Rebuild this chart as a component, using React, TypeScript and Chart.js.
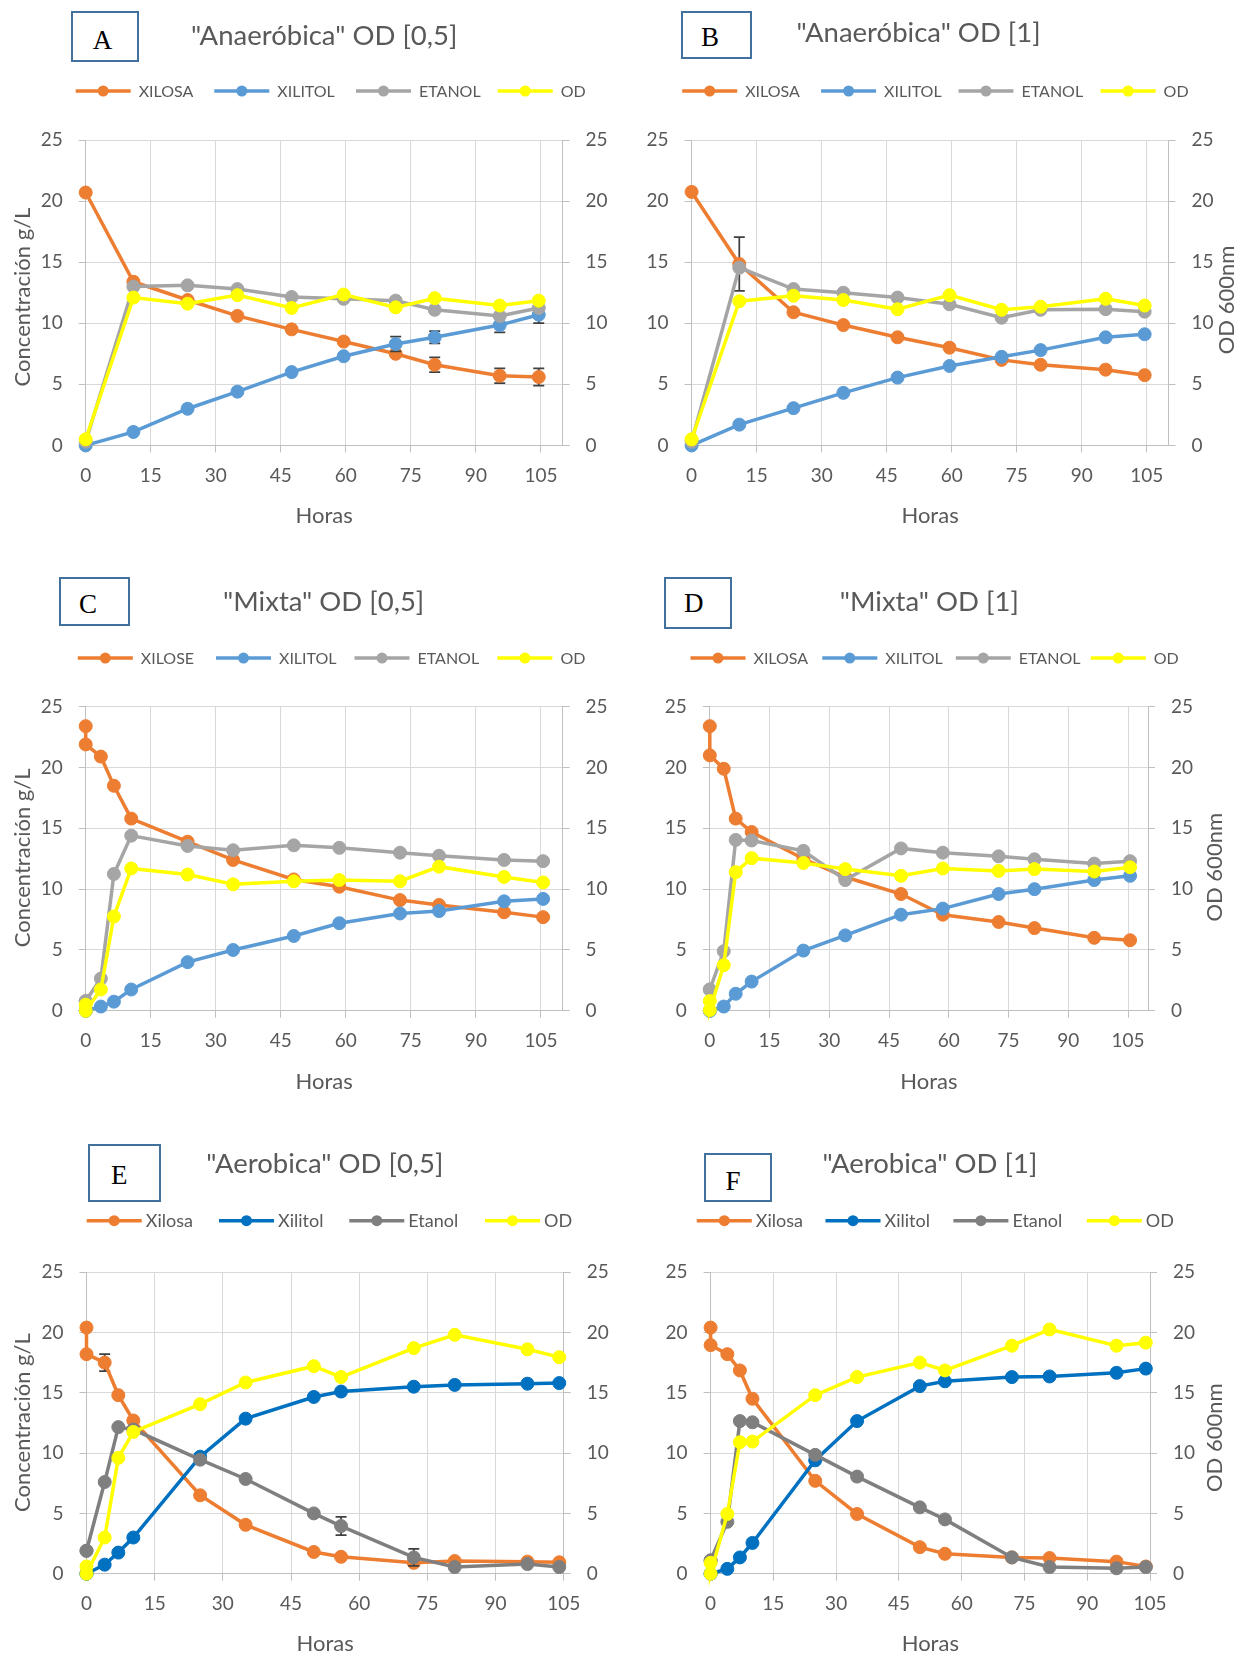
import React, { useEffect, useRef } from "react";
import { Chart, registerables } from "chart.js";

Chart.register(...registerables);

// ---------------- DATA ----------------
// Panel A  "Anaeróbica" OD [0,5]
const horasA = [0, 11, 23.5, 35, 47.5, 59.5, 71.5, 80.5, 95.5, 104.5];
const xilosaA = [20.7, 13.4, 11.9, 10.6, 9.5, 8.5, 7.5, 6.6, 5.7, 5.6];
const xilitolA = [0, 1.1, 3.0, 4.4, 6.0, 7.3, 8.3, 8.85, 9.85, 10.7];
const etanolA = [0.3, 13.0, 13.1, 12.8, 12.15, 12.0, 11.85, 11.1, 10.6, 11.25];
const odA = [0.5, 12.1, 11.6, 12.3, 11.25, 12.35, 11.3, 12.05, 11.45, 11.85];
const errXilosaA = [null, null, null, null, null, null, null, 0.6, 0.6, 0.7];
const errXilitolA = [null, null, null, null, null, null, 0.6, 0.5, 0.6, 0.7];

// Panel B  "Anaeróbica" OD [1]
const horasB = [0, 11, 23.5, 35, 47.5, 59.5, 71.5, 80.5, 95.5, 104.5];
const xilosaB = [20.75, 14.85, 10.9, 9.85, 8.85, 8.0, 7.0, 6.6, 6.2, 5.75];
const xilitolB = [0, 1.7, 3.05, 4.3, 5.55, 6.5, 7.25, 7.8, 8.85, 9.1];
const etanolB = [0.3, 14.55, 12.8, 12.5, 12.1, 11.55, 10.45, 11.1, 11.15, 10.95];
const odB = [0.5, 11.8, 12.25, 11.9, 11.15, 12.3, 11.1, 11.35, 12.0, 11.45];
const errXilosaB = [null, 2.2, null, null, null, null, null, null, null, null];

// Panel C  "Mixta" OD [0,5]
const horasC = [0, 0, 3.5, 6.5, 10.5, 23.5, 34, 48, 58.5, 72.5, 81.5, 96.5, 105.5];
const xilosaC = [23.4, 21.9, 20.9, 18.5, 15.8, 13.9, 12.4, 10.8, 10.2, 9.1, 8.7, 8.1, 7.7];
const xilitolC = [0, 0, 0.35, 0.75, 1.75, 4.0, 5.0, 6.15, 7.2, 8.0, 8.2, 9.0, 9.2];
const etanolC = [0.8, 0.8, 2.65, 11.25, 14.4, 13.55, 13.2, 13.6, 13.4, 13.0, 12.75, 12.4, 12.3];
const odC = [0.5, 0.0, 1.75, 7.75, 11.7, 11.2, 10.4, 10.65, 10.75, 10.65, 11.85, 11.0, 10.55];

// Panel D  "Mixta" OD [1]
const horasD = [0, 0, 3.5, 6.5, 10.5, 23.5, 34, 48, 58.5, 72.5, 81.5, 96.5, 105.5];
const xilosaD = [23.4, 21.0, 19.9, 15.8, 14.7, 12.5, 11.0, 9.6, 7.9, 7.3, 6.8, 6.0, 5.8];
const xilitolD = [0, 0, 0.35, 1.4, 2.4, 4.95, 6.2, 7.9, 8.4, 9.6, 10.0, 10.75, 11.1];
const etanolD = [1.75, 1.75, 4.9, 14.05, 14.0, 13.15, 10.75, 13.35, 13.0, 12.7, 12.45, 12.1, 12.3];
const odD = [0.8, 0.05, 3.75, 11.4, 12.55, 12.15, 11.65, 11.1, 11.7, 11.5, 11.65, 11.45, 11.8];

// Panel E  "Aerobica" OD [0,5]
const horasE = [0, 0, 4, 7, 10.3, 25, 35, 50, 56, 72, 81, 97, 104];
const xilosaE = [20.4, 18.2, 17.5, 14.8, 12.7, 6.5, 4.05, 1.8, 1.4, 0.9, 1.05, 1.0, 0.95];
const xilitolE = [0, 0, 0.75, 1.75, 3.0, 9.7, 12.85, 14.65, 15.1, 15.5, 15.65, 15.75, 15.8];
const etanolE = [1.9, 1.9, 7.6, 12.15, 11.95, 9.45, 7.85, 5.0, 3.95, 1.35, 0.55, 0.8, 0.55];
const odE = [0.6, 0, 3.0, 9.6, 11.75, 14.05, 15.85, 17.2, 16.3, 18.7, 19.8, 18.6, 17.95];
const errXilosaE = [null, null, 0.7, null, null, null, null, null, null, null, null, null, null];
const errEtanolE = [null, null, null, null, null, null, null, null, 0.75, 0.7, null, null, null];

// Panel F  "Aerobica" OD [1]
const horasF = [0, 0, 4, 7, 10, 25, 35, 50, 56, 72, 81, 97, 104];
const xilosaF = [20.4, 18.95, 18.2, 16.85, 14.5, 7.7, 4.95, 2.2, 1.65, 1.35, 1.3, 1.0, 0.6];
const xilitolF = [0, 0, 0.4, 1.35, 2.55, 9.4, 12.65, 15.55, 15.95, 16.3, 16.35, 16.65, 17.0];
const etanolF = [1.1, 1.1, 4.3, 12.65, 12.55, 9.85, 8.05, 5.5, 4.5, 1.35, 0.55, 0.45, 0.55];
const odF = [0.9, 0, 4.95, 10.9, 10.95, 14.8, 16.3, 17.5, 16.85, 18.9, 20.25, 18.9, 19.15];
const errXilitolF = [null, null, null, null, null, null, null, null, null, null, 0.3, null, null];

const labelsUpper = ["XILOSA", "XILITOL", "ETANOL", "OD"];
const labelsC = ["XILOSE", "XILITOL", "ETANOL", "OD"];
const labelsMixed = ["Xilosa", "Xilitol", "Etanol", "OD"];

const xTitle = "Horas";
const yLeftTitle = "Concentración g/L";
const yRightTitle = "OD 600nm";

// ---------------- STYLE ----------------
const colorsLight = ["#ED7D31", "#5B9BD5", "#A5A5A5", "#FFFF00"];
const colorsDark = ["#ED7D31", "#0070C0", "#7F7F7F", "#FFFF00"];
const TEXT = "#595959";
const GRID = "#D9D9D9";
const AXIS = "#BFBFBF";
const FONT = "Lato, 'Open Sans', sans-serif";

const panels: any[] = [
  {
    id: "A", left: 0, top: 0, w: 619, h: 560,
    plot: { l: 85.7, r: 562.6, t: 140, b: 445.4 }, xMax: 110, horasY: 515,
    horas: horasA, series: [xilosaA, xilitolA, etanolA, odA], errors: [errXilosaA, errXilitolA, null, null],
    labels: labelsUpper, colors: colorsLight,
    legendY: 91, legendX: [75.7, 214.3, 356, 497.7], legendFont: 16, legendGap: 8,
    box: { x: 71, y: 11, w: 68, h: 50.5 }, letterX: 92.7, letterY: 41,
    title: "\"Anaeróbica\" OD [0,5]", titleX: 324.2, titleY: 35.8,
    yTitles: [{ text: yLeftTitle, x: 21.7, y: 297 }],
  },
  {
    id: "B", left: 619, top: 0, w: 619, h: 560,
    plot: { l: 72.6, r: 549.5, t: 140, b: 445.4 }, xMax: 110, horasY: 515,
    horas: horasB, series: [xilosaB, xilitolB, etanolB, odB], errors: [errXilosaB, null, null, null],
    labels: labelsUpper, colors: colorsLight,
    legendY: 91, legendX: [63.2, 202.1, 339.5, 481.6], legendFont: 16, legendGap: 8,
    box: { x: 681, y: 11.4, w: 71, h: 47.5 }, letterX: 701, letterY: 37.5,
    title: "\"Anaeróbica\" OD [1]", titleX: 918.5, titleY: 32.7,
    yTitles: [{ text: yRightTitle, x: 607.6, y: 300 }],
  },
  {
    id: "C", left: 0, top: 560, w: 619, h: 560,
    plot: { l: 85.7, r: 562.6, t: 146.7, b: 450.8 }, xMax: 110, horasY: 520.7,
    horas: horasC, series: [xilosaC, xilitolC, etanolC, odC], errors: [null, null, null, null],
    labels: labelsC, colors: colorsLight,
    legendY: 98.1, legendX: [77.8, 216, 354.5, 497.4], legendFont: 16, legendGap: 8,
    box: { x: 58.8, y: 577.2, w: 71.5, h: 49.3 }, letterX: 79, letterY: 604.8,
    title: "\"Mixta\" OD [0,5]", titleX: 323.7, titleY: 601.7,
    yTitles: [{ text: yLeftTitle, x: 21.7, y: 297.9 }],
  },
  {
    id: "D", left: 619, top: 560, w: 619, h: 560,
    plot: { l: 90.8, r: 529, t: 146.7, b: 450.8 }, xMax: 110, horasY: 520.7,
    horas: horasD, series: [xilosaD, xilitolD, etanolD, odD], errors: [null, null, null, null],
    labels: labelsUpper, colors: colorsLight,
    legendY: 98.1, legendX: [71.5, 203.3, 336.8, 471.8], legendFont: 16, legendGap: 8,
    box: { x: 664.4, y: 576.5, w: 68, h: 52.4 }, letterX: 684.1, letterY: 604.1,
    title: "\"Mixta\" OD [1]", titleX: 929.3, titleY: 601.7,
    yTitles: [{ text: yRightTitle, x: 595, y: 307.3 }],
  },
  {
    id: "E", left: 0, top: 1120, w: 619, h: 536,
    plot: { l: 86.5, r: 563.8, t: 152.1, b: 453.7 }, xMax: 105, horasY: 522.7,
    horas: horasE, series: [xilosaE, xilitolE, etanolE, odE], errors: [errXilosaE, null, errEtanolE, null],
    labels: labelsMixed, colors: colorsDark,
    legendY: 100.7, legendX: [86.7, 219, 349.3, 485], legendFont: 18, legendGap: 4,
    box: { x: 88.3, y: 1144.3, w: 73, h: 58 }, letterX: 111, letterY: 1175.5,
    title: "\"Aerobica\" OD [0,5]", titleX: 324.9, titleY: 1163.3,
    yTitles: [{ text: yLeftTitle, x: 21.7, y: 302.6 }],
  },
  {
    id: "F", left: 619, top: 1120, w: 619, h: 536,
    plot: { l: 91.6, r: 531, t: 152.1, b: 453.7 }, xMax: 105, horasY: 522.7,
    horas: horasF, series: [xilosaF, xilitolF, etanolF, odF], errors: [null, errXilitolF, null, null],
    labels: labelsMixed, colors: colorsDark,
    legendY: 100.7, legendX: [77.8, 206.5, 334.4, 467.8], legendFont: 18, legendGap: 4,
    box: { x: 703.9, y: 1152.5, w: 68, h: 49.6 }, letterX: 725.6, letterY: 1181.5,
    title: "\"Aerobica\" OD [1]", titleX: 929.9, titleY: 1163.4,
    yTitles: [{ text: yRightTitle, x: 595, y: 317.7 }],
  },
];

// ---------------- PLUGINS ----------------
const legendPlugin = {
  id: "excelLegend",
  afterDraw(chart: any, _a: any, opts: any) {
    const ctx = chart.ctx;
    ctx.save();
    ctx.font = `${opts.fontSize}px ${FONT}`;
    chart.data.datasets.forEach((ds: any, i: number) => {
      const x = opts.xs[i];
      const y = opts.y;
      ctx.strokeStyle = ds.borderColor;
      ctx.lineWidth = 3.5;
      ctx.beginPath();
      ctx.moveTo(x, y);
      ctx.lineTo(x + 55, y);
      ctx.stroke();
      ctx.fillStyle = ds.borderColor;
      ctx.beginPath();
      ctx.arc(x + 27.5, y, 5.5, 0, Math.PI * 2);
      ctx.fill();
      ctx.fillStyle = TEXT;
      ctx.textAlign = "left";
      ctx.textBaseline = "alphabetic";
      ctx.fillText(ds.label, x + 55 + opts.gap, y + 0.358 * opts.fontSize);
    });
    ctx.restore();
  },
};

const errorBarPlugin = {
  id: "errorBars",
  beforeDatasetDraw(chart: any, args: any) {
    const ds = chart.data.datasets[args.index];
    const errs = ds.errors;
    if (!errs) return;
    const xs = chart.scales.x;
    const ys = chart.scales[ds.yAxisID];
    const ctx = chart.ctx;
    ctx.save();
    ctx.strokeStyle = "#404040";
    ctx.lineWidth = 1.75;
    ds.data.forEach((pt: any, i: number) => {
      const e = errs[i];
      if (e == null) return;
      const px = xs.getPixelForValue(pt.x);
      const y1 = ys.getPixelForValue(pt.y + e);
      const y2 = ys.getPixelForValue(pt.y - e);
      ctx.beginPath();
      ctx.moveTo(px, y1);
      ctx.lineTo(px, y2);
      ctx.moveTo(px - 5.5, y1);
      ctx.lineTo(px + 5.5, y1);
      ctx.moveTo(px - 5.5, y2);
      ctx.lineTo(px + 5.5, y2);
      ctx.stroke();
    });
    ctx.restore();
  },
};

const axisTextPlugin = {
  id: "axisText",
  afterDraw(chart: any, _a: any, opts: any) {
    const { ctx, chartArea } = chart;
    const fs = 22;
    ctx.save();
    ctx.fillStyle = TEXT;
    ctx.font = `${fs}px ${FONT}`;
    ctx.textAlign = "center";
    ctx.textBaseline = "alphabetic";
    ctx.fillText(opts.xTitle, (chartArea.left + chartArea.right) / 2, opts.xTitleY + 0.358 * fs);
    for (const t of opts.yTitles) {
      ctx.save();
      ctx.translate(t.x, t.y);
      ctx.rotate(-Math.PI / 2);
      ctx.fillText(t.text, 0, 0.358 * fs);
      ctx.restore();
    }
    ctx.restore();
  },
};

function makeConfig(p: any): any {
  const yW = p.plot.l;
  const y1W = 50;
  const xH = 60;
  const tickFont = { family: FONT, size: 19 };
  return {
    type: "line",
    data: {
      datasets: p.series.map((s: number[], i: number) => ({
        label: p.labels[i],
        data: p.horas.map((h: number, j: number) => ({ x: h, y: s[j] })),
        borderColor: p.colors[i],
        backgroundColor: p.colors[i],
        pointBackgroundColor: p.colors[i],
        pointBorderColor: p.colors[i],
        borderWidth: 3.5,
        pointRadius: 6.5,
        pointBorderWidth: 1,
        pointHoverRadius: 6.5,
        tension: 0,
        clip: false,
        yAxisID: i === 3 ? "y1" : "y",
        order: 3 - i,
        errors: p.errors[i],
      })),
    },
    options: {
      animation: false,
      responsive: false,
      maintainAspectRatio: false,
      events: [],
      layout: {
        autoPadding: false,
        padding: {
          top: p.plot.t,
          left: 0,
          right: p.w - p.plot.r - y1W,
          bottom: p.h - p.plot.b - xH,
        },
      },
      plugins: {
        legend: { display: false },
        tooltip: { enabled: false },
        title: { display: false },
        excelLegend: { xs: p.legendX, y: p.legendY, fontSize: p.legendFont, gap: p.legendGap },
        axisText: { xTitle, xTitleY: p.horasY, yTitles: p.yTitles },
      },
      scales: {
        x: {
          type: "linear",
          min: 0,
          max: p.xMax,
          ticks: {
            stepSize: 15,
            includeBounds: false,
            padding: 12,
            color: TEXT,
            font: tickFont,
            maxRotation: 0,
            autoSkip: false,
          },
          grid: { color: GRID, lineWidth: 1, drawTicks: true, tickLength: 7, tickColor: AXIS },
          border: { display: true, color: AXIS },
          afterFit: (s: any) => {
            s.height = xH;
          },
        },
        y: {
          type: "linear",
          position: "left",
          min: 0,
          max: 25,
          ticks: { stepSize: 5, padding: 16, color: TEXT, font: tickFont },
          grid: { color: GRID, lineWidth: 1, drawTicks: true, tickLength: 7, tickColor: AXIS },
          border: { display: true, color: AXIS },
          afterFit: (s: any) => {
            s.width = yW;
          },
        },
        y1: {
          type: "linear",
          position: "right",
          min: 0,
          max: 25,
          ticks: { stepSize: 5, padding: 16, color: TEXT, font: tickFont },
          grid: { drawOnChartArea: false, drawTicks: true, tickLength: 7, tickColor: AXIS, color: AXIS },
          border: { display: true, color: AXIS },
          afterFit: (s: any) => {
            s.width = y1W;
          },
        },
      },
    },
    plugins: [errorBarPlugin, legendPlugin, axisTextPlugin],
  };
}

function Panel({ p }: { p: any }) {
  const ref = useRef<HTMLCanvasElement>(null);
  useEffect(() => {
    const chart = new Chart(ref.current as HTMLCanvasElement, makeConfig(p));
    let alive = true;
    if ((document as any).fonts && (document as any).fonts.ready) {
      (document as any).fonts.ready.then(() => {
        if (alive) chart.update();
      });
    }
    return () => {
      alive = false;
      chart.destroy();
    };
  }, []);
  const letterSize = 27;
  const titleSize = 27.5;
  return (
    <div style={{ position: "absolute", left: p.left, top: p.top, width: p.w, height: p.h }}>
      <canvas ref={ref} width={p.w} height={p.h} style={{ width: p.w, height: p.h, display: "block" }} />
      <div
        style={{
          position: "absolute",
          left: p.box.x - p.left,
          top: p.box.y - p.top,
          width: p.box.w,
          height: p.box.h,
          border: "2px solid #41719C",
          boxSizing: "border-box",
          background: "#ffffff",
        }}
      />
      <div
        style={{
          position: "absolute",
          left: p.letterX - p.left,
          top: p.letterY - p.top - 0.504 * letterSize,
          fontFamily: "'Liberation Serif', 'DejaVu Serif', serif",
          fontSize: letterSize,
          lineHeight: 1,
          color: "#000000",
          whiteSpace: "nowrap",
        }}
      >
        {p.id}
      </div>
      <div
        style={{
          position: "absolute",
          left: p.titleX - p.left,
          top: p.titleY - p.top - 0.53 * titleSize,
          transform: "translateX(-50%)",
          fontFamily: FONT,
          fontSize: titleSize,
          lineHeight: 1,
          color: TEXT,
          whiteSpace: "nowrap",
        }}
      >
        {p.title}
      </div>
    </div>
  );
}

export default function App() {
  return (
    <div style={{ position: "absolute", left: 0, top: 0, width: 1238, height: 1656, background: "#ffffff", overflow: "hidden" }}>
      {panels.map((p) => (
        <Panel key={p.id} p={p} />
      ))}
    </div>
  );
}
